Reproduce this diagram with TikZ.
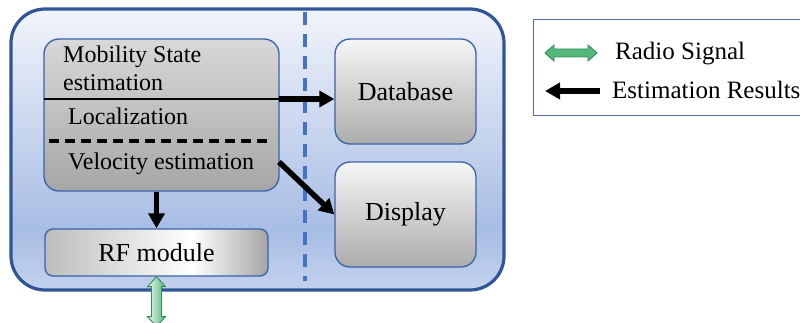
\documentclass[tikz,border=0pt]{standalone}
\usepackage{fontspec}
\setmainfont{Liberation Serif}
\usetikzlibrary{arrows.meta,calc}
\definecolor{obord}{HTML}{2F5597}
\definecolor{otop}{HTML}{F1F4FB}
\definecolor{omid}{HTML}{A8BDE4}
\definecolor{obot}{HTML}{C3D2EE}
\definecolor{ibord}{HTML}{3A62A7}
\definecolor{vdash}{HTML}{4472C4}
\definecolor{gline}{HTML}{2F8F5B}
\definecolor{gfill}{HTML}{55B77A}
\definecolor{gpale}{HTML}{EAF8EF}
\definecolor{legbord}{HTML}{4F6E9C}
\definecolor{mA}{HTML}{D8D8D8}
\definecolor{mB}{HTML}{A6A6A6}
\definecolor{dA}{HTML}{F6F6F6}
\definecolor{dB}{HTML}{ACACAC}
\definecolor{rA}{HTML}{BDBDBD}
\definecolor{rW}{HTML}{FFFFFF}
\definecolor{rB}{HTML}{A5A5A5}
\pgfdeclareverticalshading{outerbg}{100bp}{color(0bp)=(obot); color(25bp)=(obot); color(36bp)=(omid); color(75bp)=(otop); color(100bp)=(otop)}
\pgfdeclareverticalshading{mobsh}{100bp}{color(0bp)=(mB); color(25bp)=(mB); color(75bp)=(mA); color(100bp)=(mA)}
\pgfdeclareverticalshading{dbsh}{100bp}{color(0bp)=(dB); color(25bp)=(dB); color(75bp)=(dA); color(100bp)=(dA)}
\pgfdeclarehorizontalshading{rfsh}{100bp}{color(0bp)=(rA); color(25bp)=(rA); color(58bp)=(rW); color(75bp)=(rB); color(100bp)=(rB)}
\begin{document}
\begin{tikzpicture}[x=1pt,y=-1pt,
  outerbox/.style={draw=obord, line width=3.2pt, rounded corners=34pt, shade, shading=outerbg, inner sep=0pt},
  graybox/.style={draw=ibord, line width=1.3pt, rounded corners=15pt, shade, inner sep=0pt},
  txt/.style={font=\fontsize{24}{28}\selectfont, inner sep=0pt},
  bigtxt/.style={font=\fontsize{26}{30}\selectfont},
  legtxt/.style={font=\fontsize{25}{29}\selectfont, inner sep=0pt},
  blkarrow/.style={line width=5.5pt, -{Triangle[length=15pt,width=16pt]}},
  vdashed/.style={draw=vdash, line width=3.2pt, dash pattern=on 13pt off 9pt},
  gshade/.style={draw=gline, line width=0.9pt},
  legbox/.style={draw=legbord, line width=1pt, fill=white, inner sep=0pt}
]
\useasboundingbox (0,0) rectangle (800,323);

\node[outerbox, minimum width=493pt, minimum height=281pt] (outer) at (257.5,149.5) {};
\coordinate (dtop) at (305,12);
\coordinate (dbot) at (305,281);
\draw[vdashed] (dtop) -- (dbot);

\node[graybox, shading=mobsh, minimum width=235pt, minimum height=152pt] (mob) at (161.5,115) {};
\coordinate (sL) at (44,99);
\coordinate (sR) at (279,99);
\draw[line width=2.6pt] (sL) -- (sR);
\coordinate (dL) at (49,141);
\coordinate (dR) at (273,141);
\draw[line width=3.2pt, dash pattern=on 10pt off 6pt] (dL) -- (dR);
\node[txt, anchor=base west] (t1) at (63,63) {Mobility State};
\node[txt, anchor=base west] (t2) at (63,91) {estimation};
\node[txt, anchor=base west] (t3) at (68,125) {Localization};
\node[txt, anchor=base west] (t4) at (68,170) {Velocity estimation};

\node[graybox, shading=dbsh, minimum width=141pt, minimum height=105pt, bigtxt] (db) at (405.5,91.5) {Database};
\node[graybox, shading=dbsh, minimum width=141pt, minimum height=105pt, bigtxt] (disp) at (405.5,214.5) {Display};
\node[graybox, shading=rfsh, rounded corners=8pt, minimum width=223pt, minimum height=47pt, bigtxt] (rf) at (156.5,252.5) {RF module};

\draw[blkarrow] (sR) -- (sR -| db.west);
\coordinate (vR) at (279,162);
\draw[blkarrow] (vR) -- (disp.west);
\draw[blkarrow] (rf.north |- mob.south) -- (rf.north);

\coordinate (gs) at (rf.south);
\path[gshade, left color=gpale, right color=gfill] (gs) -- ++(9,10) -- ++(-4,0) -- ++(0,30) -- ++(4,0) -- ++(-9,10) -- ++(-9,-10) -- ++(4,0) -- ++(0,-30) -- ++(-4,0) -- cycle;

\node[legbox, minimum width=277pt, minimum height=96pt] (leg) at (671.5,68) {};
\coordinate (la) at (545,53);
\path[gshade, left color=gfill, middle color=gpale, right color=gfill] (la) -- ++(9,-8) -- ++(0,4) -- ++(34,0) -- ++(0,-4) -- ++(9,8) -- ++(-9,8) -- ++(0,-4) -- ++(-34,0) -- ++(0,4) -- cycle;
\node[legtxt, anchor=base west] (l1) at (615,60) {Radio Signal};
\coordinate (lb1) at (600,91);
\coordinate (lb2) at (545,91);
\draw[blkarrow] (lb1) -- (lb2);
\node[legtxt, anchor=base west] (l2) at (612,99) {Estimation Results};
\end{tikzpicture}
\end{document}
